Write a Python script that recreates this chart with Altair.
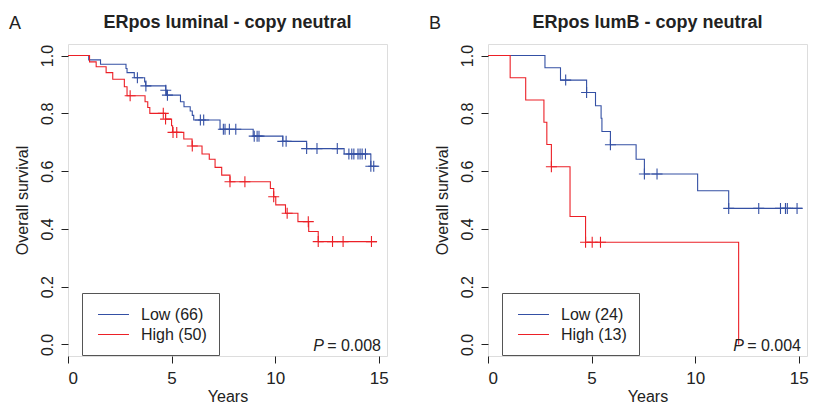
import bisect
import altair as alt
import pandas as pd

BLUE = "#3450a4"
RED = "#ec2027"
FONT = "Liberation Sans"
PLUS = "M-1,0H1M0,-1V1"

# ---------- Panel A: ERpos luminal - copy neutral ----------
a_low_t = [0, 1.0, 1.57, 2.8, 2.85, 3.2, 3.7, 3.75, 4.72, 4.75, 5.43, 5.6, 5.9, 6.0, 6.07,
           7.34, 8.94, 10.37, 11.52, 13.33, 14.62, 14.99]
a_low_s = [1.0, 0.985, 0.970, 0.955, 0.941, 0.923, 0.909, 0.895, 0.880, 0.863, 0.840, 0.823,
           0.808, 0.793, 0.777, 0.745, 0.721, 0.703, 0.678, 0.659, 0.617, 0.617]
a_low_c = [3.35, 3.76, 4.72, 4.8, 6.39, 6.55, 7.5, 7.58, 7.79, 8.1, 8.99, 9.13, 9.22, 10.37,
           10.53, 11.52, 12.02, 13.0, 13.56, 13.7, 13.8, 14.0, 14.1, 14.2, 14.36, 14.62, 14.76]
a_high_t = [0, 1.04, 1.36, 1.84, 2.16, 2.72, 2.85, 3.72, 3.85, 3.95, 4.71, 5.0, 5.05, 5.59,
            5.99, 6.47, 6.82, 7.1, 7.42, 7.82, 9.77, 9.93, 10.03, 10.5, 11.1, 11.62, 12.08, 14.92]
a_high_s = [1.0, 0.978, 0.961, 0.941, 0.918, 0.892, 0.861, 0.840, 0.820, 0.800, 0.780, 0.757,
            0.734, 0.711, 0.687, 0.659, 0.641, 0.613, 0.586, 0.563, 0.540, 0.511, 0.483, 0.454,
            0.425, 0.391, 0.356, 0.356]
a_high_c = [3.0, 4.6, 4.71, 5.07, 5.25, 6.0, 7.82, 8.54, 9.93, 10.58, 11.6, 12.08, 12.77,
            13.28, 14.65]
a_labels = ["Low (66)", "High (50)"]

# ---------- Panel B: ERpos lumB - copy neutral ----------
b_low_t = [0, 2.75, 3.5, 4.76, 5.19, 5.46, 5.5, 5.91, 7.15, 7.55, 10.12, 11.62, 15.18]
b_low_s = [1.0, 0.958, 0.915, 0.872, 0.826, 0.783, 0.737, 0.691, 0.641, 0.590, 0.532, 0.471, 0.471]
b_low_c = [3.75, 4.76, 5.91, 7.55, 8.16, 11.62, 13.07, 14.12, 14.36, 14.45, 14.92]
b_high_t = [0, 1.07, 1.82, 2.7, 2.84, 3.06, 3.96, 4.71, 12.1]
b_high_s = [1.0, 0.923, 0.846, 0.769, 0.692, 0.615, 0.443, 0.354, 0.0]
b_high_c = [3.06, 4.71, 5.03, 5.43]
b_labels = ["Low (24)", "High (13)"]

W, H = 319, 312


def steps(t, s, g):
    return pd.DataFrame({"t": t, "s": s, "g": g, "i": list(range(len(t)))})


def cens(c, t, s, g):
    ys = [s[bisect.bisect_right(t, x) - 1] for x in c]
    return pd.DataFrame({"t": c, "s": ys, "g": g})


def txt(value, **kw):
    x = kw.pop("x")
    y = kw.pop("y")
    return alt.Chart(pd.DataFrame({"v": [value]})).mark_text(
        baseline="alphabetic", font=FONT, color="#222", **kw).encode(
        x=alt.value(x), y=alt.value(y), text="v:N")


def panel(letter, title, labels, lo, hi, pval):
    keys = ["0 " + labels[0], "1 " + labels[1]]
    st = pd.concat([steps(lo[0], lo[1], keys[0]), steps(hi[0], hi[1], keys[1])])
    ce = pd.concat([cens(lo[2], lo[0], lo[1], keys[0]), cens(hi[2], hi[0], hi[1], keys[1])])
    xsc = alt.Scale(domain=[0, 15.4], nice=False, zero=False)
    ysc = alt.Scale(domain=[-0.04, 1.04], nice=False, zero=False)
    xax = alt.Axis(values=[0, 5, 10, 15], title="Years", grid=False, domain=False,
                   tickColor="#222", tickSize=7, labelFontSize=17, labelPadding=7,
                   titleFontSize=16, titleFontWeight="normal", titlePadding=2,
                   labelColor="#222", titleColor="#222", labelFont=FONT, titleFont=FONT)
    yax = alt.Axis(values=[0, 0.2, 0.4, 0.6, 0.8, 1.0], format=".1f", title="Overall survival",
                   grid=False, domain=False, tickColor="#222", tickSize=7, labelFontSize=16,
                   labelAngle=-90, labelAlign="center", labelBaseline="bottom", labelPadding=6,
                   titleFontSize=16, titleFontWeight="normal", titlePadding=9,
                   labelColor="#222", titleColor="#222", labelFont=FONT, titleFont=FONT)
    legend = alt.Legend(orient="none", legendX=14, legendY=249, title=None, values=keys,
                        labelExpr="substring(datum.label, 2)",
                        strokeColor="#555", fillColor="white", padding=12,
                        symbolType="M-1.72,0H1.72", symbolSize=324, symbolStrokeWidth=1,
                        symbolOffset=10, labelOffset=18, labelFontSize=16, labelFont=FONT,
                        labelColor="#222", rowPadding=2)
    color = alt.Color("g:N", scale=alt.Scale(domain=keys, range=[BLUE, RED]),
                      sort=keys, legend=legend, title=None)
    lines = alt.Chart(st).mark_line(interpolate="step-after", strokeWidth=1.1).encode(
        x=alt.X("t:Q", scale=xsc, axis=xax),
        y=alt.Y("s:Q", scale=ysc, axis=yax),
        color=color, detail="g:N", order="i:Q")
    pts = alt.Chart(ce).mark_point(shape=PLUS, size=121, filled=False, strokeWidth=1.1,
                                   opacity=1).encode(
        x=alt.X("t:Q", scale=xsc), y=alt.Y("s:Q", scale=ysc), color=color)
    lab = txt(letter, x=-59, y=-15, align="left", fontSize=18)
    ttl = txt(title, x=W / 2, y=-16, align="center", fontSize=18, fontWeight="bold")
    pi = txt("P", x=W - 63, y=307, align="right", fontSize=16, fontStyle="italic")
    pv = txt("= " + pval, x=W - 6, y=307, align="right", fontSize=16)
    return alt.layer(lines, pts, lab, ttl, pi, pv).properties(width=W, height=H)


pa = panel("A", "ERpos luminal - copy neutral", a_labels,
           (a_low_t, a_low_s, a_low_c), (a_high_t, a_high_s, a_high_c), "0.008")
pb = panel("B", "ERpos lumB - copy neutral", b_labels,
           (b_low_t, b_low_s, b_low_c), (b_high_t, b_high_s, b_high_c), "0.004")

chart = alt.hconcat(pa, pb, spacing=39).resolve_scale(color="independent").properties(
    padding={"left": 0, "top": 5, "right": 0, "bottom": 0}
).configure_view(stroke="#444", strokeWidth=1).configure(font=FONT)

chart.save("out.html", embed_options={"renderer": "svg", "actions": False})
